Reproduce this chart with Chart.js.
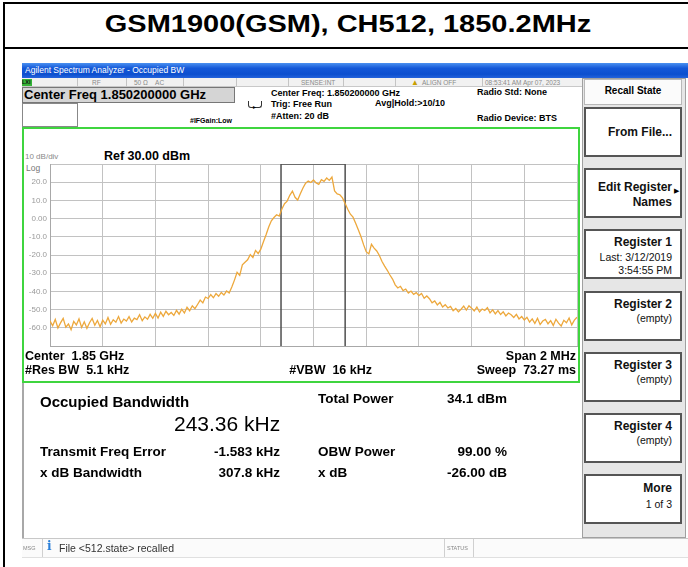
<!DOCTYPE html>
<html>
<head>
<meta charset="utf-8">
<script src="https://cdn.jsdelivr.net/npm/chart.js@4.4.1/dist/chart.umd.min.js"></script>
<style>
body { margin: 0; background: #fff; font-family: Arial, "Liberation Sans", sans-serif; }
#page { position: relative; width: 688px; height: 567px; overflow: hidden; background: #fff; }
.a { position: absolute; white-space: pre; }
.b { font-weight: bold; }
.key { position: absolute; left: 584px; width: 98px; height: 50px; background: #fff; border: 2px solid #555; box-sizing: border-box; }
.kt { position: absolute; right: 8px; white-space: pre; text-align: right; color: #111; }
.cell { position: absolute; top: 78px; height: 9px; border-left: 1px solid #c4c4c4; }
.st { position: absolute; top: 78px; font: 6.5px/9px Arial, "Liberation Sans", sans-serif; color: #8a8a8a; white-space: pre; }
#chartBox { position: absolute; left: 24px; top: 130px; width: 554px; height: 250px; }
#chartBox canvas { display: block; }
</style>
</head>
<body>
<div id="page">
  <!-- outer frame + title -->
  <div class="a" style="left:3px;top:2px;width:690px;height:600px;border:2px solid #000;box-sizing:border-box"></div>
  <div class="a" style="left:3px;top:47px;width:690px;height:2px;background:#000"></div>
  <div class="a b" style="left:3px;top:12px;width:690px;text-align:center;font-size:23px;line-height:24px;transform:scaleX(1.26)">GSM1900(GSM), CH512, 1850.2MHz</div>

  <!-- window title bar -->
  <div class="a" style="left:22px;top:63px;width:666px;height:15px;background:linear-gradient(#4a90f0,#1458d8 35%,#0c4fcf 75%,#2463dc)"></div>
  <div class="a" style="left:25px;top:63px;font-size:8.5px;line-height:15px;color:#fff">Agilent Spectrum Analyzer - Occupied BW</div>

  <!-- status row -->
  <div class="a" style="left:22px;top:78px;width:560px;height:9px;background:#f1f1f1;border-bottom:1px solid #c8c8c8;box-sizing:border-box"></div>
  <div class="a b" style="left:22px;top:79px;width:10px;height:7px;background:#36b336;font-size:5.5px;line-height:7px;color:#111">LXI</div>
  <div class="cell" style="left:77px"></div>
  <div class="cell" style="left:126px"></div>
  <div class="cell" style="left:183px"></div>
  <div class="cell" style="left:236px"></div>
  <div class="cell" style="left:288px"></div>
  <div class="cell" style="left:343px"></div>
  <div class="cell" style="left:395px"></div>
  <div class="cell" style="left:482px"></div>
  <div class="st" style="left:92px">RF</div>
  <div class="st" style="left:134px">50 Ω    AC</div>
  <div class="st" style="left:301px">SENSE:INT</div>
  <div class="st" style="left:411px;color:#c8a000;font-size:8px">▲</div>
  <div class="st" style="left:422px">ALIGN OFF</div>
  <div class="st" style="left:485px">08:53:41 AM Apr 07, 2023</div>

  <!-- header boxes -->
  <div class="a" style="left:22px;top:87px;width:213px;height:16px;background:#d5d5d5;border:1px solid #777;box-sizing:border-box"></div>
  <div class="a b" style="left:24px;top:87px;font-size:13px;line-height:16px">Center Freq 1.850200000 GHz</div>
  <div class="a" style="left:22px;top:103px;width:56px;height:24px;border:1px solid #888;box-sizing:border-box;background:#fff"></div>
  <div class="a" style="left:248px;top:101px;width:14px;height:7px;border:1px solid #333;border-top:none;border-radius:0 0 3px 3px;box-sizing:border-box"></div>
  <div class="a" style="left:253px;top:104px;font-size:6px;line-height:6px">▸</div>
  <div class="a b" style="left:190px;top:116px;font-size:7px;line-height:10px">#IFGain:Low</div>
  <div class="a b" style="left:271px;top:88px;font-size:9px;line-height:11px">Center Freq: 1.850200000 GHz</div>
  <div class="a b" style="left:271px;top:99px;font-size:9px;line-height:11px">Trig: Free Run</div>
  <div class="a b" style="left:271px;top:111px;font-size:9px;line-height:11px">#Atten: 20 dB</div>
  <div class="a b" style="left:375px;top:98px;font-size:9px;line-height:11px">Avg|Hold:&gt;10/10</div>
  <div class="a b" style="left:477px;top:87px;font-size:9px;line-height:11px">Radio Std: None</div>
  <div class="a b" style="left:477px;top:113px;font-size:9px;line-height:11px">Radio Device: BTS</div>

  <!-- plot panel -->
  <div class="a" style="left:22px;top:127px;width:558px;height:256px;border:2px solid #3fd53f;box-sizing:border-box;background:#fff"></div>
  <div class="a" style="left:25px;top:152px;font-size:8px;line-height:10px;color:#8a8a8a">10 dB/div</div>
  <div class="a b" style="left:104px;top:149px;font-size:12.5px;line-height:14px">Ref 30.00 dBm</div>
  <div class="a" style="left:26px;top:163px;font-size:8.5px;line-height:10px;color:#777">Log</div>
  <div id="chartBox"><canvas id="obwChart" width="554" height="250"></canvas></div>
  <div class="a b" style="left:25px;top:349px;font-size:12.5px;line-height:14px">Center  1.85 GHz</div>
  <div class="a b" style="left:25px;top:363px;font-size:12.5px;line-height:14px">#Res BW  5.1 kHz</div>
  <div class="a b" style="right:316px;top:363px;font-size:12.5px;line-height:14px">#VBW  16 kHz</div>
  <div class="a b" style="right:112px;top:349px;font-size:12.5px;line-height:14px">Span 2 MHz</div>
  <div class="a b" style="right:112px;top:363px;font-size:12.5px;line-height:14px">Sweep  73.27 ms</div>

  <!-- results panel -->
  <div class="a" style="left:22px;top:383px;width:561px;height:155px;border-left:2px solid #a8a8a8;box-sizing:border-box;background:#fff"></div>
  <div class="a b" style="left:40px;top:393px;font-size:15px;line-height:18px">Occupied Bandwidth</div>
  <div class="a" style="left:174px;top:412px;font-size:21px;line-height:24px">243.36 kHz</div>
  <div class="a b" style="left:318px;top:391px;font-size:13.5px;line-height:16px">Total Power</div>
  <div class="a b" style="right:181px;top:391px;font-size:13.5px;line-height:16px">34.1 dBm</div>
  <div class="a b" style="left:40px;top:444px;font-size:13.5px;line-height:16px">Transmit Freq Error</div>
  <div class="a b" style="right:408px;top:444px;font-size:13.5px;line-height:16px">-1.583 kHz</div>
  <div class="a b" style="left:318px;top:444px;font-size:13.5px;line-height:16px">OBW Power</div>
  <div class="a b" style="right:181px;top:444px;font-size:13.5px;line-height:16px">99.00 %</div>
  <div class="a b" style="left:40px;top:465px;font-size:13.5px;line-height:16px">x dB Bandwidth</div>
  <div class="a b" style="right:408px;top:465px;font-size:13.5px;line-height:16px">307.8 kHz</div>
  <div class="a b" style="left:318px;top:465px;font-size:13.5px;line-height:16px">x dB</div>
  <div class="a b" style="right:181px;top:465px;font-size:13.5px;line-height:16px">-26.00 dB</div>

  <!-- softkey panel -->
  <div class="a" style="left:582px;top:78px;width:104px;height:460px;background:#e6e6e6;border:1px solid #a0a0a0;box-sizing:border-box"></div>
  <div class="a" style="left:584px;top:79px;width:98px;height:26px;background:#fbfbfb;border:1px solid #b8b8b8;box-sizing:border-box"></div>
  <div class="a b" style="left:584px;top:84px;width:98px;text-align:center;font-size:10px;line-height:13px">Recall State</div>
  <div class="key" style="top:107px"><div class="kt b" style="top:16px;font-size:12px;line-height:14px">From File...</div></div>
  <div class="key" style="top:168px"><div class="kt b" style="top:10px;font-size:12px;line-height:15px">Edit Register<br>Names</div><div class="a" style="right:1px;top:17px;font-size:7px">▶</div></div>
  <div class="key" style="top:229px"><div class="kt b" style="top:4px;font-size:12px;line-height:14px">Register 1</div><div class="kt" style="top:20px;font-size:10.5px;line-height:13px">Last: 3/12/2019<br>3:54:55 PM</div></div>
  <div class="key" style="top:291px"><div class="kt b" style="top:4px;font-size:12px;line-height:14px">Register 2</div><div class="kt" style="top:19px;font-size:10.5px;line-height:13px">(empty)</div></div>
  <div class="key" style="top:352px"><div class="kt b" style="top:4px;font-size:12px;line-height:14px">Register 3</div><div class="kt" style="top:19px;font-size:10.5px;line-height:13px">(empty)</div></div>
  <div class="key" style="top:413px"><div class="kt b" style="top:4px;font-size:12px;line-height:14px">Register 4</div><div class="kt" style="top:19px;font-size:10.5px;line-height:13px">(empty)</div></div>
  <div class="key" style="top:474px"><div class="kt b" style="top:5px;font-size:12px;line-height:14px">More</div><div class="kt" style="top:22px;font-size:10.5px;line-height:13px">1 of 3</div></div>

  <!-- message bar -->
  <div class="a" style="left:22px;top:538px;width:666px;height:20px;background:#fbfbfb;border-top:1px solid #c8c8c8;border-bottom:1px solid #e0e0e0;box-sizing:border-box"></div>
  <div class="a" style="left:42px;top:539px;width:1px;height:18px;background:#d0d0d0"></div>
  <div class="a" style="left:444px;top:539px;width:1px;height:18px;background:#d0d0d0"></div>
  <div class="a" style="left:473px;top:539px;width:1px;height:18px;background:#d0d0d0"></div>
  <div class="a" style="left:23px;top:544px;font-size:5.5px;line-height:8px;color:#888">MSG</div>
  <div class="a b" style="left:47px;top:540px;width:10px;height:12px;color:#2a7fd8;font-size:12px;line-height:12px;font-family:'DejaVu Serif',serif">i</div>
  <div class="a" style="left:59px;top:542px;font-size:10.5px;line-height:13px;color:#333">File &lt;512.state&gt; recalled</div>
  <div class="a" style="left:447px;top:544px;font-size:5.5px;line-height:8px;color:#888">STATUS</div>
</div>

<script>
// trace, one point every 10 kHz from -1000 kHz to +1000 kHz (offset from centre)
const freqStartKHz = -1000;
const freqStepKHz = 10;
const traceDbm = [
  -56.2, -58.9, -55.4, -60.1, -57.3, -54.8, -59.6, -57.9, -61.0, -56.5,
  -58.4, -55.1, -59.8, -56.7, -60.3, -57.2, -54.9, -58.6, -56.0, -59.4,
  -55.8, -57.9, -54.3, -58.1, -55.6, -56.9, -53.8, -57.4, -55.2, -56.3,
  -53.9, -56.8, -54.7, -55.5, -52.8, -56.1, -54.0, -55.3, -52.6, -54.8,
  -52.1, -54.6, -51.4, -53.7, -50.9, -52.8, -51.6, -53.2, -50.4, -52.5,
  -49.8, -51.9, -48.7, -50.6, -47.9, -49.5, -47.2, -44.8, -46.3, -43.1,
  -43.9, -41.8, -43.5, -41.2, -42.7, -40.6, -42.0, -39.8, -40.9, -37.6,
  -33.8, -29.5, -31.2, -25.4, -24.0, -22.6, -19.8, -21.4, -17.5, -19.2,
  -16.8, -12.7, -8.9, -4.6, -1.2, 0.6, 2.1, 1.4, 5.3, 8.2,
  9.6, 12.8, 15.1, 11.7, 10.2, 13.6, 16.8, 19.4, 20.6, 19.8,
  21.2, 19.6, 18.8, 21.4, 20.5, 22.3, 21.0, 22.8, 15.2, 13.6,
  13.1, 11.4, 8.3, 5.1, 2.4, 0.8, -2.6, -6.1, -9.8, -14.3,
  -18.2, -19.4, -14.1, -16.2, -17.8, -20.3, -23.6, -26.1, -28.4, -31.0,
  -33.2, -36.4, -38.1, -37.2, -39.6, -38.7, -40.9, -39.8, -41.6, -40.7,
  -42.3, -41.1, -43.8, -42.5, -44.0, -46.3, -45.2, -47.4, -46.0, -48.6,
  -47.3, -49.1, -48.2, -50.6, -49.4, -51.2, -49.8, -48.1, -50.3, -47.9,
  -49.2, -50.8, -48.6, -51.3, -49.7, -50.5, -48.9, -51.8, -50.1, -52.4,
  -50.6, -52.7, -51.2, -53.5, -51.9, -52.8, -54.3, -52.6, -55.1, -53.8,
  -55.7, -54.2, -56.9, -55.1, -57.6, -54.8, -58.2, -56.3, -55.4, -57.8,
  -56.1, -58.7, -55.3, -57.4, -59.0, -55.9, -57.2, -54.6, -58.4, -55.8, -54.2
];

// occupied bandwidth box
const obwCenterKHz = -1.583;
const obwWidthKHz = 243.36;

// axis settings
const spanKHz = 2000;
const refLevelDbm = 30;
const dbPerDiv = 10;
const divisions = 10;

const tracePoints = traceDbm.map((v, i) => ({ x: freqStartKHz + i * freqStepKHz, y: v }));
const bottomDbm = refLevelDbm - dbPerDiv * divisions;
const obwLeft = obwCenterKHz - obwWidthKHz / 2;
const obwRight = obwCenterKHz + obwWidthKHz / 2;
const obwBox = [
  { x: obwLeft, y: bottomDbm }, { x: obwLeft, y: refLevelDbm },
  { x: obwRight, y: refLevelDbm }, { x: obwRight, y: bottomDbm }
];

new Chart(document.getElementById('obwChart').getContext('2d'), {
  type: 'scatter',
  data: {
    datasets: [
      {
        data: tracePoints,
        showLine: true,
        borderColor: '#eda83c',
        borderWidth: 1.3,
        pointRadius: 0,
        order: 1
      },
      {
        data: obwBox,
        showLine: true,
        borderColor: '#505050',
        borderWidth: 1.5,
        pointRadius: 0,
        order: 2
      }
    ]
  },
  options: {
    responsive: false,
    animation: false,
    devicePixelRatio: 1,
    layout: { padding: { left: 0, right: 1, top: 34, bottom: 34 } },
    plugins: { legend: { display: false }, tooltip: { enabled: false } },
    scales: {
      x: {
        type: 'linear',
        min: -spanKHz / 2,
        max: spanKHz / 2,
        ticks: { display: false, stepSize: spanKHz / divisions },
        grid: { color: '#c2c2c2', drawTicks: false },
        border: { color: '#a8a8a8' },
        afterFit: (s) => { s.height = 0; }
      },
      y: {
        min: bottomDbm,
        max: refLevelDbm,
        ticks: {
          stepSize: dbPerDiv,
          color: '#9a9a9a',
          font: { family: 'Arial', size: 8 },
          padding: 3,
          callback: (v) => (v === refLevelDbm || v === bottomDbm) ? '' : (v === 0 ? '0.00' : v.toFixed(1))
        },
        grid: { color: '#c2c2c2', drawTicks: false },
        border: { color: '#a8a8a8' },
        afterFit: (s) => { s.width = 26; }
      }
    }
  }
});
</script>
</body>
</html>
